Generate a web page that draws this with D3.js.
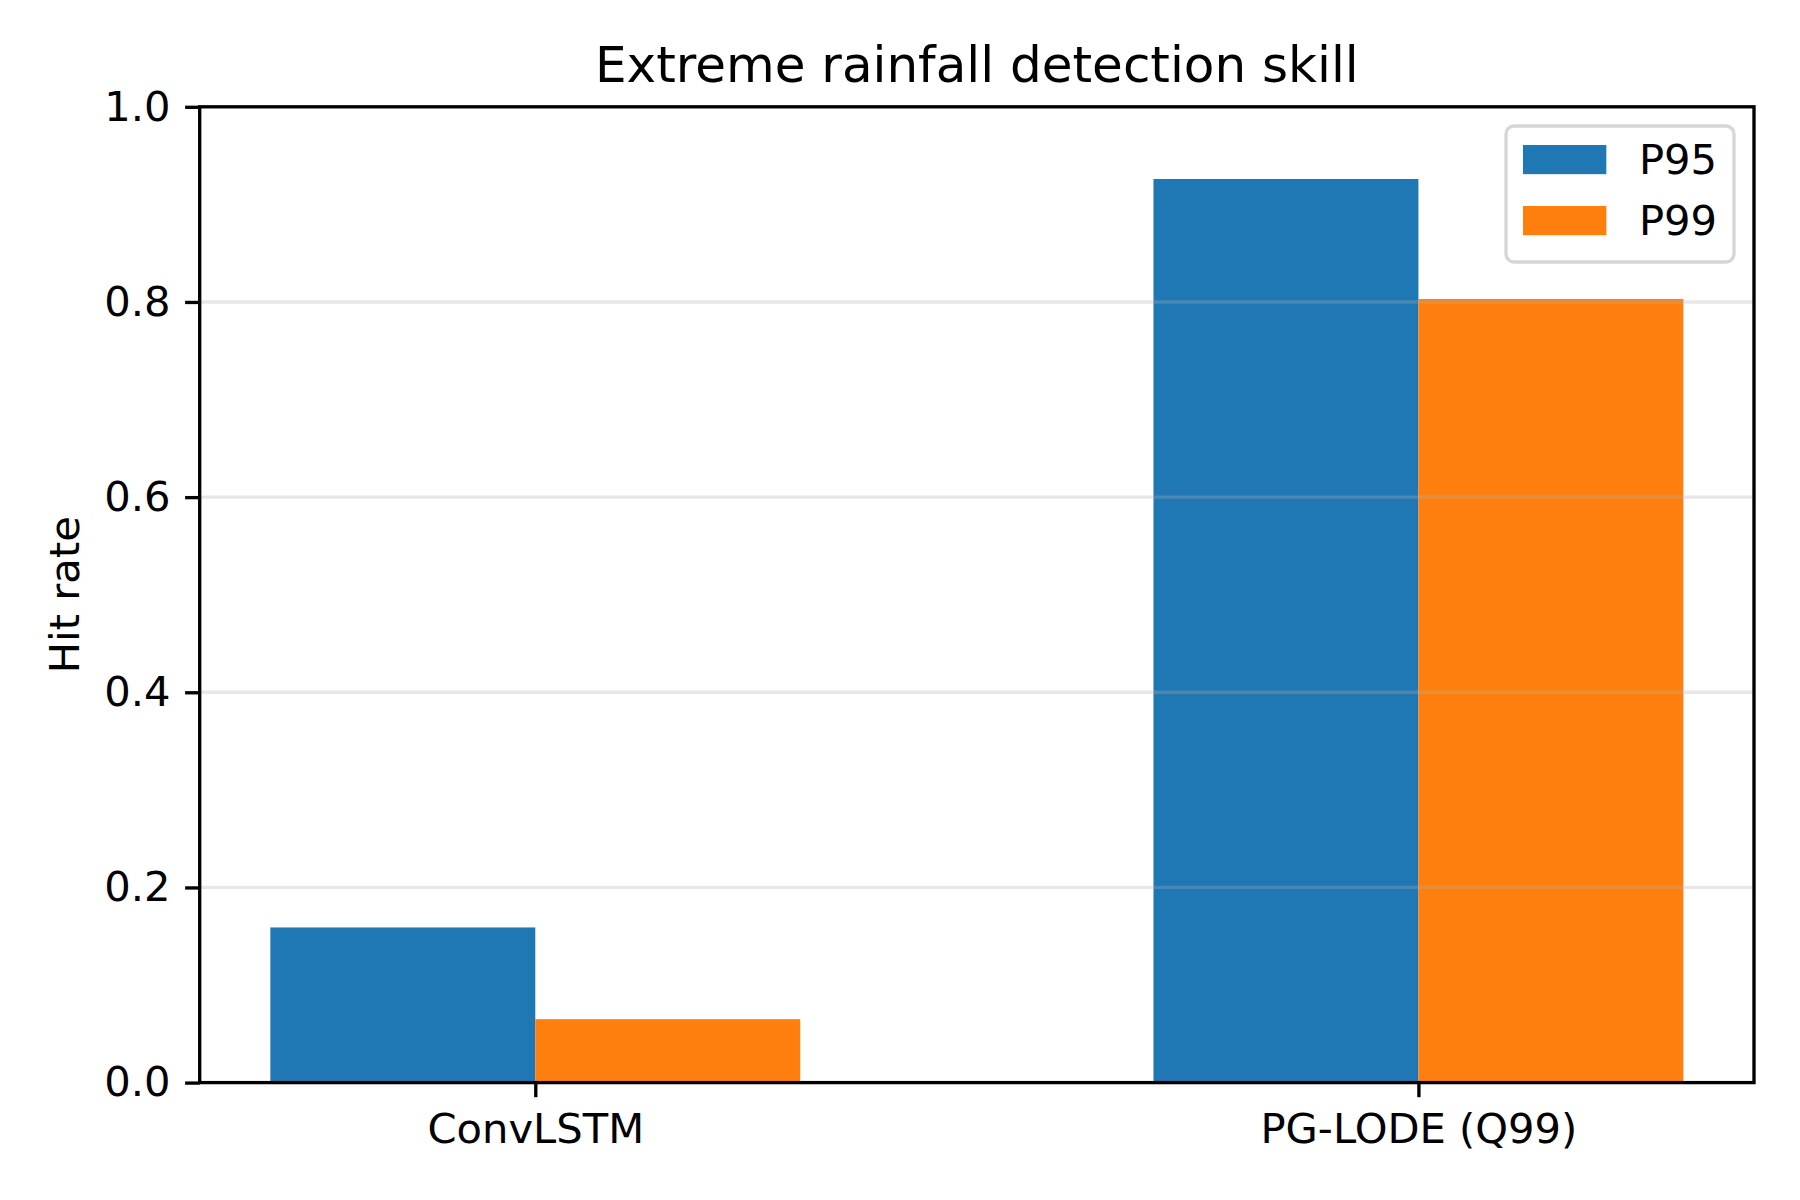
<!DOCTYPE html>
<html>
<head>
<meta charset="utf-8">
<script src="https://cdn.jsdelivr.net/npm/d3@7"></script>
<style>
  body { margin: 0; background: #fff; }
  svg { display: block; font-family: "DejaVu Sans", sans-serif; }
</style>
</head>
<body>
<svg id="chart"></svg>
<script>
// Data

const models = ["ConvLSTM", "PG-LODE (Q99)"];
const thresholds = ["P95", "P99"];
const p95 = [0.159, 0.926];
const p99 = [0.065, 0.803];
const yTicks = [0.0, 0.2, 0.4, 0.6, 0.8, 1.0];
const colors = ["#1f77b4", "#ff7f0e"];

// Layout (figure 1800x1200, matplotlib-like sizes at 300 dpi)

const width = 1800;
const height = 1200;
const margin = { top: 106.8, right: 46, bottom: 117.4, left: 199.7 };
const innerW = width - margin.left - margin.right;
const innerH = height - margin.top - margin.bottom;

const pt = 300 / 72;
const lw = 0.8 * pt;
const tickLen = 3.5 * pt;
const fontTick = 10 * pt;
const fontTitle = 12 * pt;
const barWidth = 0.3;

const series = [p95, p99];

const svg = d3.select("#chart")
  .attr("width", width)
  .attr("height", height);

const g = svg.append("g")
  .attr("transform", "translate(" + margin.left + "," + margin.top + ")");

// Scales: x is linear over category index, with 5% margins like matplotlib

const xMin = -barWidth, xMax = (models.length - 1) + barWidth;
const pad = (xMax - xMin) * 0.05;
const x = d3.scaleLinear().domain([xMin - pad, xMax + pad]).range([0, innerW]);
const y = d3.scaleLinear().domain([0, 1]).range([innerH, 0]);

// Bars

series.forEach((vals, s) => {
  g.append("g").selectAll("rect")
    .data(vals)
    .enter()
    .append("rect")
    .attr("x", (d, i) => x(i + (s - 1) * barWidth))
    .attr("width", x(barWidth) - x(0))
    .attr("y", d => y(d))
    .attr("height", d => y(0) - y(d))
    .attr("fill", colors[s]);
});

// Horizontal grid lines (drawn over bars, translucent)

g.append("g").selectAll("line")
  .data(yTicks.slice(1, -1))
  .enter()
  .append("line")
  .attr("x1", 0)
  .attr("x2", innerW)
  .attr("y1", d => y(d))
  .attr("y2", d => y(d))
  .attr("stroke", "#b0b0b0")
  .attr("stroke-opacity", 0.3)
  .attr("stroke-width", lw);

// Axes

const yAxis = d3.axisLeft(y)
  .tickValues(yTicks)
  .tickFormat(d3.format(".1f"))
  .tickSize(tickLen)
  .tickPadding(tickLen);

const xAxis = d3.axisBottom(x)
  .tickValues(models.map((d, i) => i))
  .tickFormat(i => models[i])
  .tickSize(tickLen)
  .tickPadding(tickLen + 2);

const yG = g.append("g").call(yAxis);
const xG = g.append("g").attr("transform", "translate(0," + innerH + ")").call(xAxis);

[yG, xG].forEach(a => {
  a.select(".domain").remove();
  a.selectAll(".tick line").attr("stroke", "#000").attr("stroke-width", lw);
  a.selectAll(".tick text")
    .attr("fill", "#000")
    .style("font-size", fontTick + "px")
    .style("font-family", "DejaVu Sans");
});

// Spines

g.append("rect")
  .attr("x", 0)
  .attr("y", 0)
  .attr("width", innerW)
  .attr("height", innerH)
  .attr("fill", "none")
  .attr("stroke", "#000")
  .attr("stroke-width", lw);

// Title and axis label

svg.append("text")
  .attr("x", margin.left + innerW / 2)
  .attr("y", 82)
  .attr("text-anchor", "middle")
  .style("font-size", fontTitle + "px")
  .text("Extreme rainfall detection skill");

svg.append("text")
  .attr("transform", "translate(79," + (margin.top + innerH / 2) + ") rotate(-90)")
  .attr("text-anchor", "middle")
  .style("font-size", fontTick + "px")
  .text("Hit rate");

// Legend

const legend = svg.append("g").attr("transform", "translate(1506,126)");

legend.append("rect")
  .attr("width", 228)
  .attr("height", 136)
  .attr("rx", 8)
  .attr("fill", "#fff")
  .attr("fill-opacity", 0.8)
  .attr("stroke", "#cccccc")
  .attr("stroke-opacity", 0.8)
  .attr("stroke-width", lw);

thresholds.forEach((t, i) => {
  const row = legend.append("g").attr("transform", "translate(0," + (i * 61) + ")");
  row.append("rect")
    .attr("x", 17)
    .attr("y", 19)
    .attr("width", 2.0 * fontTick)
    .attr("height", 0.7 * fontTick)
    .attr("fill", colors[i]);
  row.append("text")
    .attr("x", 133)
    .attr("y", 48)
    .style("font-size", fontTick + "px")
    .text(t);
});
</script>
</body>
</html>
